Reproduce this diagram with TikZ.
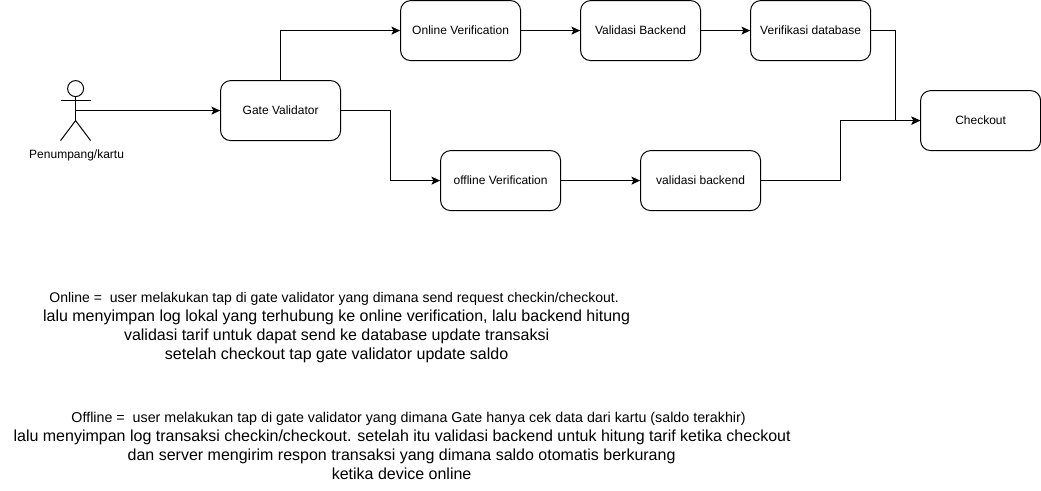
\documentclass[tikz,border=0pt]{standalone}
\usepackage{fontspec}
\setmainfont{Liberation Sans}
\usetikzlibrary{arrows.meta}
\tikzset{
  x=0.75pt,y=-0.75pt,
  flowbox/.style={draw=black,line width=0.75pt,rounded corners=7.5pt,minimum width=90pt,minimum height=45pt,inner sep=0pt,font=\fontsize{9}{11}\selectfont,text=black,fill=white},
  conn/.style={draw=black,line width=0.75pt,-{Stealth[length=6.5pt,width=6pt,inset=1.5pt]}},
  plainline/.style={draw=black,line width=0.75pt},
  small/.style={inner sep=0pt,font=\fontsize{9}{11}\selectfont,text=black},
  mid/.style={inner sep=0pt,anchor=base,font=\fontsize{10.5}{12}\selectfont,text=black},
  midb/.style={inner sep=0pt,anchor=base,font=\fontsize{10.7}{12}\selectfont,text=black},
  big/.style={inner sep=0pt,anchor=base,font=\fontsize{12}{14}\selectfont,text=black}
}
\begin{document}
\begin{tikzpicture}
\useasboundingbox (-0.6,-0.6) rectangle (1040.4,490.4);
\fill[white] (-0.6,-0.6) rectangle (1040.4,490.4);
% boxes
\node[flowbox] (gate) at (280,110) {Gate Validator};
\node[flowbox] (online) at (460,30) {Online Verification};
\node[flowbox] (vb) at (640,30) {Validasi Backend};
\node[flowbox] (vd) at (810,30) {Verifikasi database};
\node[flowbox] (off) at (500,180) {offline Verification};
\node[flowbox] (vb2) at (700,180) {validasi backend};
\node[flowbox] (chk) at (980,120) {Checkout};
% actor
\coordinate (hip) at (75,120);
\coordinate (waist) at (75,110);
\draw[plainline] (75,88) circle[radius=8];
\draw[plainline] (75,96) -- (hip);
\draw[plainline] (60,100) -- (90,100);
\draw[plainline] (60,140) -- (hip) -- (90,140);
\node[small] (actor) at (76,155) {Penumpang/kartu};
% connectors
\draw[conn] (waist) -- (gate.west);
\draw[conn] (gate.north) |- (online.west);
\draw[conn] (online.east) -- (vb.west);
\draw[conn] (vb.east) -- (vd.west);
\draw[conn] (gate.east) -- (390,110) -- (390,180) -- (off.west);
\draw[conn] (off.east) -- (vb2.west);
\draw[conn] (vd.east) -- (895,30) -- (895,120) -- (chk.west);
\draw[conn] (vb2.east) -- (840,180) -- (840,120) -- (chk.west);
% texts
\node[mid] (t1) at (333.5,301.5) {Online =\ \ user melakukan tap di gate validator yang dimana send request checkin/checkout.};
\node[big] (t2) at (336,320.5) {lalu menyimpan log lokal yang terhubung ke online verification, lalu backend hitung};
\node[big] (t3) at (336,339.5) {validasi tarif untuk dapat send ke database update transaksi};
\node[big] (t4) at (336,358.7) {setelah checkout tap gate validator update saldo};
\node[midb] (t5) at (408,421.5) {Offline =\ \ user melakukan tap di gate validator yang dimana Gate hanya cek data dari kartu (saldo terakhir)};
\node[big] (t6) at (401.5,440.5) {lalu menyimpan log transaksi checkin/checkout. setelah itu validasi backend untuk hitung tarif ketika checkout};
\node[big] (t7) at (401,459.5) {dan server mengirim respon transaksi yang dimana saldo otomatis berkurang};
\node[big] (t8) at (401,478.5) {ketika device online};
\end{tikzpicture}
\end{document}
